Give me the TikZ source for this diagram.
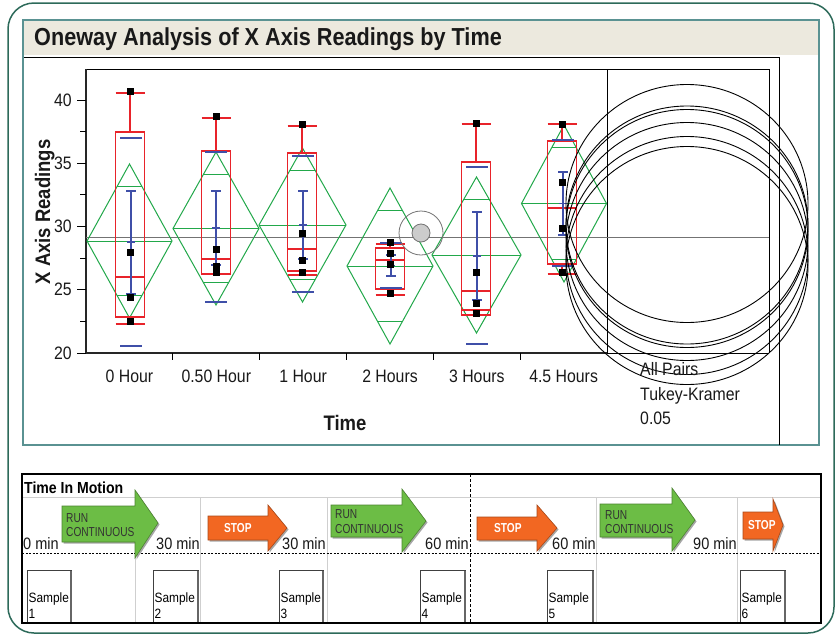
\documentclass[tikz,border=0pt]{standalone}
\usepackage{fontspec}
\setmainfont{Liberation Sans}[FakeStretch=0.88]
\newfontfamily\arrowfont{Liberation Sans}[FakeStretch=0.78]
\definecolor{frameg}{HTML}{2D6A5A}
\definecolor{panelb}{HTML}{5A9292}
\definecolor{titlebg}{HTML}{ECE9DE}
\definecolor{jred}{HTML}{E8232A}
\definecolor{jgreen}{HTML}{22A84A}
\definecolor{jblue}{HTML}{3F4FA8}
\definecolor{argreen}{HTML}{6CBD45}
\definecolor{arorange}{HTML}{F26722}
\definecolor{gridgrey}{HTML}{CFCFCF}
\tikzset{
  diam/.style={jgreen, line width=1pt},
  rbox/.style={jred, line width=1.4pt},
  bl/.style={jblue, line width=1.3pt},
  ticklab/.style={font=\fontsize{18}{20}\selectfont, inner sep=0pt, text=black!90},
  axtitle/.style={font=\fontsize{21}{24}\selectfont\bfseries, inner sep=0pt, text=black!90},
  minlab/.style={font=\fontsize{16.5}{18}\selectfont, inner sep=0pt, text=black!90},
  samplab/.style={font=\fontsize{13.5}{15}\selectfont, inner sep=0pt, anchor=base west},
  arlab/.style={font=\fontsize{13}{14}\arrowfont, inner sep=0pt, anchor=base west},
  gridln/.style={gridgrey, line width=0.8pt},
}
\newcommand{\jdiamond}[4]{% cx m h hw
  \pgfmathsetmacro{\jdT}{#2-#3}
  \pgfmathsetmacro{\jdB}{#2+#3}
  \pgfmathsetmacro{\jdU}{#2-0.7071*#3}
  \pgfmathsetmacro{\jdD}{#2+0.7071*#3}
  \pgfmathsetmacro{\jdW}{0.2929*#4}
  \draw[diam] ({#1-#4},#2) -- (#1,\jdT) -- ({#1+#4},#2) -- (#1,\jdB) -- cycle;
  \draw[diam] ({#1-#4},#2) -- ({#1+#4},#2);
  \draw[diam] ({#1-\jdW},\jdU) -- ({#1+\jdW},\jdU);
  \draw[diam] ({#1-\jdW},\jdD) -- ({#1+\jdW},\jdD);
}
\newcommand{\jboxplot}[6]{% cx top med bot upcap lowcap
  \draw[rbox] ({#1-14.5},#2) rectangle ({#1+14.5},#4);
  \draw[rbox] ({#1-14.5},#3) -- ({#1+14.5},#3);
  \draw[rbox] (#1,#2) -- (#1,#5);
  \draw[rbox] ({#1-14.5},#5) -- ({#1+14.5},#5);
  \draw[rbox] (#1,#4) -- (#1,#6);
  \draw[rbox] ({#1-14.5},#6) -- ({#1+14.5},#6);
}
\newcommand{\jblue}[6]{% cx stdtop errtop mean errbot stdbot
  \draw[bl] ({#1-11},#2) -- ({#1+11},#2);
  \draw[bl] ({#1-11},#6) -- ({#1+11},#6);
  \draw[bl] (#1,#3) -- (#1,#5);
  \draw[bl] ({#1-5},#3) -- ({#1+5},#3);
  \draw[bl] ({#1-5},#5) -- ({#1+5},#5);
  \draw[bl] ({#1-4},#4) -- ({#1+4},#4);
}
\newcommand{\jpts}[5]{%
  \foreach \yy in {#2,#3,#4,#5} \fill ({#1-3.5},{\yy-3.5}) rectangle ({#1+3.5},{\yy+3.5});
}
\newcommand{\bigarrow}[9]{% fill x0 xb xa yt yb ht hb ym
  \fill[black!35] ({#2+1.5},{#5+1.5}) -- ({#3+1.5},{#5+1.5}) -- ({#3+1.5},{#7+1.5}) -- ({#4+1.5},{#9+1.5}) -- ({#3+1.5},{#8+1.5}) -- ({#3+1.5},{#6+1.5}) -- ({#2+1.5},{#6+1.5}) -- cycle;
  \filldraw[fill=#1, draw=#1!70!black, line width=0.6pt] (#2,#5) -- (#3,#5) -- (#3,#7) -- (#4,#9) -- (#3,#8) -- (#3,#6) -- (#2,#6) -- cycle;
}
\begin{document}
\begin{tikzpicture}[x=1pt,y=-1pt]
\useasboundingbox (0,0) rectangle (840,635);
\fill[white] (0,0) rectangle (840,635);
% outer frame
\draw[frameg, line width=1.5pt, rounded corners=26pt] (8,3) rectangle (834,633);
% top panel
\fill[titlebg] (23,20) rectangle (819,55);
\draw[panelb, line width=1.3pt] (23,20) rectangle (819,445);
\node[anchor=base west, inner sep=0pt, font=\fontsize{24.6}{28}\selectfont\bfseries, text=black!90] (title) at (34,45) {Oneway Analysis of X Axis Readings by Time};
\draw[line width=1pt] (24,57) -- (779,57) -- (779,445);
% plot frame
\draw[line width=0.8pt] (86,69) -- (769,69) -- (769,353);
\draw[line width=0.8pt] (607,69) -- (607,353);
\draw[line width=0.8pt] (607,353) -- (769,353);
\draw[black!85, line width=1.3pt] (86,69) -- (86,353) -- (607,353);
% y ticks
\foreach \yy/\lab in {353/20, 289.75/25, 226.5/30, 163.25/35, 100/40} {
  \draw[line width=1pt] (77,\yy) -- (86,\yy);
  \node[ticklab, anchor=east] (yt\lab) at (72,\yy) {\lab};
}
\foreach \yy in {321.4, 258.1, 194.9, 131.6} \draw[line width=1pt] (80,\yy) -- (86,\yy);
% x ticks
\foreach \xx in {172.8, 259.7, 346.5, 433.3, 520.2} \draw[line width=1pt] (\xx,353) -- (\xx,360);
\node[ticklab, anchor=base] (x0) at (129.4,382) {0 Hour};
\node[ticklab, anchor=base] (x1) at (216.3,382) {0.50 Hour};
\node[ticklab, anchor=base] (x2) at (303.1,382) {1 Hour};
\node[ticklab, anchor=base] (x3) at (390,382) {2 Hours};
\node[ticklab, anchor=base] (x4) at (476.8,382) {3 Hours};
\node[ticklab, anchor=base] (x5) at (563.6,382) {4.5 Hours};
\node[axtitle, anchor=base] (xtitle) at (345,430) {Time};
\node[axtitle, anchor=base, rotate=90] (ytitle) at (50,212) {X Axis Readings};
% grand mean
\draw[black!55, line width=0.9pt] (86,237) -- (769,237);
% diamonds
\jdiamond{129.5}{241}{77}{42.5}
\jdiamond{216}{228.5}{76.5}{43}
\jdiamond{302.5}{225}{77}{43.5}
\jdiamond{390}{266}{78}{43}
\jdiamond{476.5}{255}{78}{44.5}
\jdiamond{564}{203.5}{78.5}{42.5}
% boxes
\jboxplot{130}{132}{277}{317}{93}{324}
\jboxplot{216}{151}{259}{274}{118}{274}
\jboxplot{302}{153}{249}{271}{126}{275}
\jboxplot{390}{248}{260}{289}{244}{295}
\jboxplot{476}{162}{291}{315}{124}{310}
\jboxplot{562}{141}{208}{264}{124}{274}
% blue
\jblue{131}{138}{191}{242}{294}{346}
\jblue{216}{152}{191}{228}{265}{302}
\jblue{303}{156}{191}{225}{259}{292}
\jblue{391}{243}{255}{265.5}{276}{288}
\jblue{477}{167}{212}{256}{300}{344}
\jblue{563}{140}{172}{203.5}{235}{266}
% points
\jpts{130}{91}{252}{297}{321}
\jpts{216}{116}{249}{266}{272}
\jpts{302}{124}{233}{260}{272}
\jpts{390}{242}{253}{264}{293}
\jpts{476}{123}{272}{303}{313}
\jpts{562}{124}{182}{228}{272}
% highlight circle
\draw[black!55, line width=0.8pt] (421,233) circle (22pt);
\filldraw[fill=black!20, draw=black!55, line width=0.8pt] (421,233) circle (9pt);
% comparison circles
\foreach \cy in {241.5, 228.5, 225, 265.5, 255.5, 203.5}
  \draw[line width=0.9pt] (687,\cy) ellipse (121pt and 119pt);
\node[ticklab, anchor=base west] (ap1) at (640,375) {All Pairs};
\node[ticklab, anchor=base west] (ap2) at (640,400) {Tukey-Kramer};
\node[ticklab, anchor=base west] (ap3) at (640,424) {0.05};
% ===== bottom panel
\node[anchor=base west, inner sep=0pt, font=\fontsize{16}{18}\selectfont\bfseries] (tim) at (24,493) {Time In Motion};
\draw[gridln] (22,497) -- (821,497);
\foreach \xx in {135, 200, 327, 596, 737} \draw[gridln] (\xx,497) -- (\xx,623);
\draw[line width=0.8pt, dash pattern=on 2pt off 1.5pt] (22,553) -- (821,553);
\draw[line width=0.8pt, dash pattern=on 3pt off 2pt] (470,474) -- (470,623);
% arrows
\bigarrow{argreen}{62}{135}{158}{506}{542}{490}{558}{523}
\bigarrow{arorange}{208}{268}{287}{516}{540}{505}{551}{528}
\bigarrow{argreen}{331}{402}{426}{505}{537}{489}{552}{521}
\bigarrow{arorange}{477}{537}{557}{517}{540}{505}{551}{528}
\bigarrow{argreen}{600}{672}{695}{504}{537}{488}{551}{520}
\bigarrow{arorange}{743}{773}{783}{512}{539}{499}{551}{525}
\node[arlab, text=black!80] (r1a) at (66,522) {RUN};
\node[arlab, text=black!80] (r1b) at (66,536) {CONTINUOUS};
\node[arlab, text=white, font=\fontsize{13}{14}\arrowfont\bfseries] (s1) at (224,532) {STOP};
\node[arlab, text=black!80] (r2a) at (335,518) {RUN};
\node[arlab, text=black!80] (r2b) at (335,533) {CONTINUOUS};
\node[arlab, text=white, font=\fontsize{13}{14}\arrowfont\bfseries] (s2) at (494,532) {STOP};
\node[arlab, text=black!80] (r3a) at (605,519) {RUN};
\node[arlab, text=black!80] (r3b) at (605,533) {CONTINUOUS};
\node[arlab, text=white, font=\fontsize{13}{14}\arrowfont\bfseries] (s3) at (748,529) {STOP};
% minutes
\node[minlab, anchor=base west] (m0) at (23,549) {0 min};
\node[minlab, anchor=base east] (m1) at (200,549) {30 min};
\node[minlab, anchor=base east] (m2) at (326,549) {30 min};
\node[minlab, anchor=base east] (m3) at (469,549) {60 min};
\node[minlab, anchor=base east] (m4) at (596,549) {60 min};
\node[minlab, anchor=base east] (m5) at (737,549) {90 min};
% sample boxes
\foreach \xa/\xb/\n in {27/71/1, 153/198/2, 279/323/3, 420/465/4, 547/593/5, 740/785/6} {
  \draw[fill=white, draw=black!75, line width=0.8pt] (\xa,570) rectangle (\xb,623);
  \draw[black!60, line width=1.2pt] (\xb,571) -- (\xb,623);
  \node[samplab] (sa\n) at ({\xa+1.5},602) {Sample};
  \node[samplab] (sb\n) at ({\xa+1.5},618) {\n};
}
\draw[line width=1.6pt] (22,474) rectangle (821,623);
\end{tikzpicture}
\end{document}
